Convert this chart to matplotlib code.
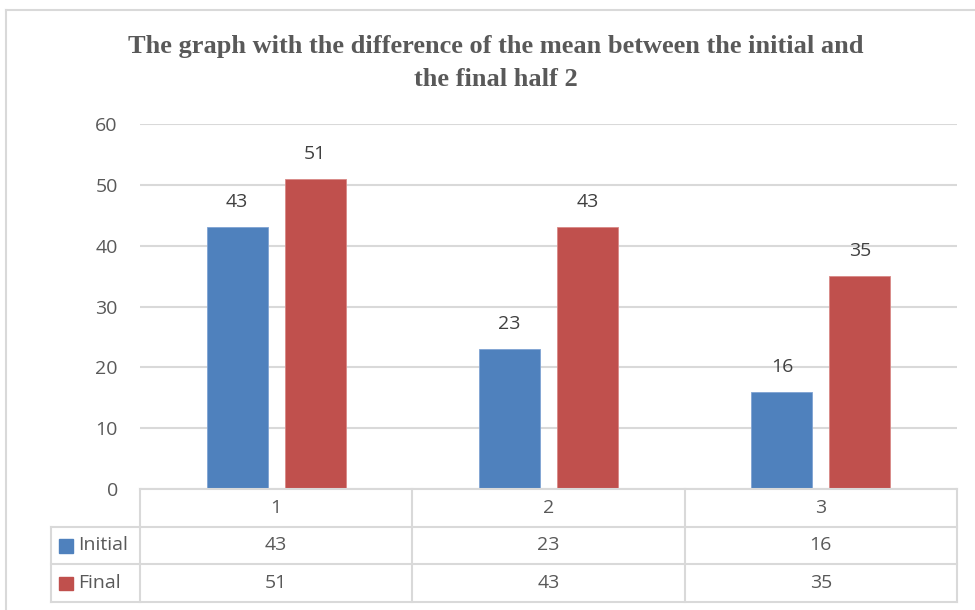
import numpy as np
import matplotlib.pyplot as plt
from matplotlib.patches import Rectangle
from matplotlib.lines import Line2D

# data
categories = ['1', '2', '3']
series_names = ['Initial', 'Final']
initial = [43, 23, 16]
final = [51, 43, 35]
yticks = [0, 10, 20, 30, 40, 50, 60]
title = 'The graph with the difference of the mean between the initial and\nthe final half 2'

blue = '#4F81BD'
red = '#C0504D'
grid_c = '#D9D9D9'
txt_c = '#595959'
lab_c = '#404040'
font = 'Open Sans'
fs = 14

W, H = 975, 610
fig = plt.figure(figsize=(W / 100, H / 100), dpi=100)

def fx(px):
    return px / W

def fy(py):
    return 1 - py / H

# outer chart border (left and top only visible)
fig.add_artist(Line2D([fx(6), fx(6)], [fy(10), fy(612)], color=grid_c, lw=1.5))
fig.add_artist(Line2D([fx(6), fx(980)], [fy(10), fy(10)], color=grid_c, lw=1.5))

fig.text(fx(496), fy(63), title, ha='center', va='center', family='Liberation Serif',
         fontweight='bold', fontsize=19, color=txt_c, linespacing=1.5)

# plot area
left, right, top, bottom = 140, 957, 124, 489
ax = fig.add_axes([fx(left), fy(bottom), fx(right - left), (bottom - top) / H])
x = np.arange(len(categories)) + 0.5
bw = 0.224
off = 0.143
ax.bar(x - off, initial, bw, color=blue, edgecolor='#7FA3D3', lw=0.6, zorder=3)
ax.bar(x + off, final, bw, color=red, edgecolor='#D98886', lw=0.6, zorder=3)
for xi, v in zip(x - off, initial):
    ax.annotate(str(v), (xi, v), xytext=(0, 25), textcoords='offset pixels',
                ha='center', va='center', fontsize=fs, color=lab_c, family=font)
for xi, v in zip(x + off, final):
    ax.annotate(str(v), (xi, v), xytext=(0, 25), textcoords='offset pixels',
                ha='center', va='center', fontsize=fs, color=lab_c, family=font)
ax.set_xlim(0, len(categories))
ax.set_ylim(0, 60)
ax.set_yticks(yticks)
ax.set_xticks([])
ax.yaxis.grid(True, color=grid_c, lw=1.5, zorder=0)
for s in ax.spines.values():
    s.set_visible(False)
ax.tick_params(axis='y', length=0, pad=16, labelsize=fs, labelcolor=txt_c)
for t in ax.get_yticklabels():
    t.set_family(font)

# data table
tleft = 51
tw = (left - tleft) / ((right - left) / len(categories))
tab = fig.add_axes([fx(tleft), fy(602), fx(right - tleft), (602 - bottom) / H])
tab.set_xlim(-tw, len(categories))
tab.set_ylim(3, 0)
tab.axis('off')
lc = '#D9D9D9'
# horizontal lines
tab.plot([0, 3], [0, 0], color=lc, lw=1.5, clip_on=False)
for r in [1, 2, 3]:
    tab.plot([-tw, 3], [r, r], color=lc, lw=1.5, clip_on=False)
tab.plot([-tw, -tw], [1, 3], color=lc, lw=1.5, clip_on=False)
for c in range(len(categories) + 1):
    tab.plot([c, c], [0, 3], color=lc, lw=1.5, clip_on=False)

for i, cat in enumerate(categories):
    tab.text(i + 0.5, 0.5, cat, ha='center', va='center', fontsize=fs,
             color=txt_c, family=font)
    tab.text(i + 0.5, 1.5, str(initial[i]), ha='center', va='center', fontsize=fs,
             color=txt_c, family=font)
    tab.text(i + 0.5, 2.5, str(final[i]), ha='center', va='center', fontsize=fs,
             color=txt_c, family=font)

for r, (name, col) in enumerate(zip(series_names, [blue, red])):
    tab.add_patch(Rectangle((-tw + 0.03, r + 1.33), 0.05, 0.36, color=col, clip_on=False))
    tab.text(-tw + 0.1, r + 1.5, name, ha='left', va='center', fontsize=fs,
             color=txt_c, family=font)

fig.savefig('out.png', dpi=100)
